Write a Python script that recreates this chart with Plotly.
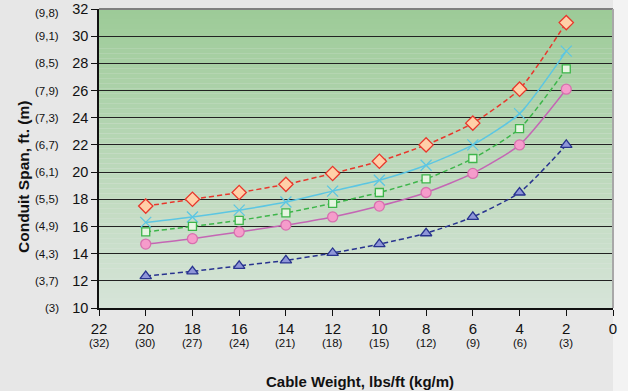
import plotly.graph_objects as go

weights = [20, 18, 16, 14, 12, 10, 8, 6, 4, 2]
red_diamond = [17.5, 18.0, 18.5, 19.1, 19.9, 20.8, 22.0, 23.6, 26.1, 31.0]
cyan_x = [16.3, 16.7, 17.2, 17.8, 18.6, 19.4, 20.5, 22.0, 24.3, 28.9]
green_square = [15.6, 16.0, 16.45, 17.0, 17.7, 18.5, 19.5, 21.0, 23.2, 27.6]
pink_circle = [14.7, 15.1, 15.6, 16.1, 16.7, 17.5, 18.5, 19.9, 22.0, 26.1]
blue_triangle = [12.35, 12.7, 13.1, 13.5, 14.05, 14.7, 15.5, 16.7, 18.5, 22.0]

x_ticks = [22, 20, 18, 16, 14, 12, 10, 8, 6, 4, 2, 0]
x_metric = ["(32)", "(30)", "(27)", "(24)", "(21)", "(18)", "(15)", "(12)", "(9)", "(6)", "(3)", ""]
y_ticks = [10, 12, 14, 16, 18, 20, 22, 24, 26, 28, 30, 32]
y_metric = ["(3)", "(3,7)", "(4,3)", "(4,9)", "(5,5)", "(6,1)", "(6,7)", "(7,3)", "(7,9)", "(8,5)", "(9,1)", "(9,8)"]

FONT = "Liberation Sans, Arial, sans-serif"
TXT = "#111111"

fig = go.Figure()

series = [
    (red_diamond, "#e8372c", "dash", "diamond", "#ffd0a8", "#e8372c", 11),
    (cyan_x, "#5cc6e2", "solid", "x-thin-open", "#5cc6e2", "#5cc6e2", 11),
    (green_square, "#3db54a", "dash", "square", "#e6f5e1", "#3db54a", 8),
    (pink_circle, "#c466b4", "solid", "circle", "#f59ccb", "#d86fae", 10),
    (blue_triangle, "#28338f", "dash", "triangle-up", "#8f96d8", "#28338f", 10),
]
for ys, lc, dash, sym, mfill, mline, msize in series:
    fig.add_trace(go.Scatter(
        x=weights, y=ys, mode="lines+markers",
        line=dict(color=lc, width=1.5, dash="5px,3px" if dash == "dash" else "solid", shape="spline", smoothing=0.6),
        marker=dict(symbol=sym, size=msize, color=mfill, line=dict(color=mline, width=1.3)),
        showlegend=False, hoverinfo="skip",
    ))

T, B, L, R = 9, 83, 99, 15
PH = 391 - T - B
PW = 628 - L - R

shapes = []
# lighter strip at the right of the page
shapes.append(dict(type="rect", xref="paper", yref="paper",
                   x0=1, x1=1 + R / PW, y0=-B / PH, y1=1 + T / PH,
                   fillcolor="#f3f3f3", line=dict(width=0), layer="below"))
# vertical gradient plot background built from bands
n = 60
top = (157, 203, 152)
bot = (214, 228, 216)
for i in range(n):
    t = i / (n - 1)
    c = tuple(round(top[k] + (bot[k] - top[k]) * t) for k in range(3))
    shapes.append(dict(type="rect", xref="paper", yref="paper",
                       x0=0, x1=1, y0=1 - (i + 1) / n, y1=1 - i / n,
                       fillcolor=f"rgb{c}", line=dict(width=0), layer="below"))
shapes.append(dict(type="line", xref="paper", yref="paper", x0=0, x1=1, y0=1, y1=1,
                   line=dict(color="#808080", width=2)))
shapes.append(dict(type="line", xref="paper", yref="paper", x0=1, x1=1, y0=0, y1=1,
                   line=dict(color="#a8a8a8", width=2)))

annotations = []
for v, m in zip(x_ticks, x_metric):
    if m:
        annotations.append(dict(x=v, xref="x", y=0, yref="paper", yshift=-35, text=m,
                                showarrow=False, xanchor="center", yanchor="middle",
                                font=dict(size=11.5, family=FONT, color=TXT)))
for v, m in zip(y_ticks, y_metric):
    annotations.append(dict(x=0, xref="paper", xshift=-38, y=v, yref="y", text=m,
                            yshift=-4 if v == y_ticks[-1] else 0,
                            showarrow=False, xanchor="right", yanchor="middle",
                            font=dict(size=11.5, family=FONT, color=TXT)))
annotations.append(dict(x=0.507, xref="paper", y=0, yref="paper", yshift=-73,
                        text="<b>Cable Weight, lbs/ft (kg/m)</b>", showarrow=False,
                        xanchor="center", yanchor="middle", font=dict(size=15, family=FONT, color=TXT)))
annotations.append(dict(x=0, xref="paper", xshift=-76, y=(391 - B - 177) / PH, yref="paper",
                        text="<b>Conduit Span, ft. (m)</b>", showarrow=False, textangle=-90,
                        xanchor="center", yanchor="middle", font=dict(size=15.5, family=FONT, color=TXT)))

fig.update_layout(
    width=628, height=391,
    margin=dict(l=L, r=R, t=T, b=B),
    paper_bgcolor="#e7e7e7",
    plot_bgcolor="rgba(0,0,0,0)",
    shapes=shapes,
    annotations=annotations,
    font=dict(family=FONT, color=TXT),
    xaxis=dict(
        range=[22, 0], tickmode="array", tickvals=x_ticks, ticktext=[str(v) for v in x_ticks],
        tickfont=dict(size=15, family=FONT, color=TXT), ticklabeloverflow="allow",
        showgrid=False, zeroline=False, showline=True, linecolor=TXT, linewidth=1.5,
        ticks="outside", ticklen=6, tickcolor=TXT, automargin=False,
    ),
    yaxis=dict(
        range=[10, 32], tickmode="array", tickvals=y_ticks, ticktext=[str(v) for v in y_ticks],
        tickfont=dict(size=14.5, family=FONT, color=TXT), ticklabeloverflow="allow",
        showgrid=True, gridcolor="#222222", gridwidth=1.3, zeroline=False,
        showline=True, linecolor=TXT, linewidth=1.5,
        ticks="outside", ticklen=6, tickcolor=TXT, automargin=False,
    ),
)

fig.write_html("out.html", config={"displayModeBar": False},
               post_script="document.body.style.margin='0';document.body.style.padding='0';")
